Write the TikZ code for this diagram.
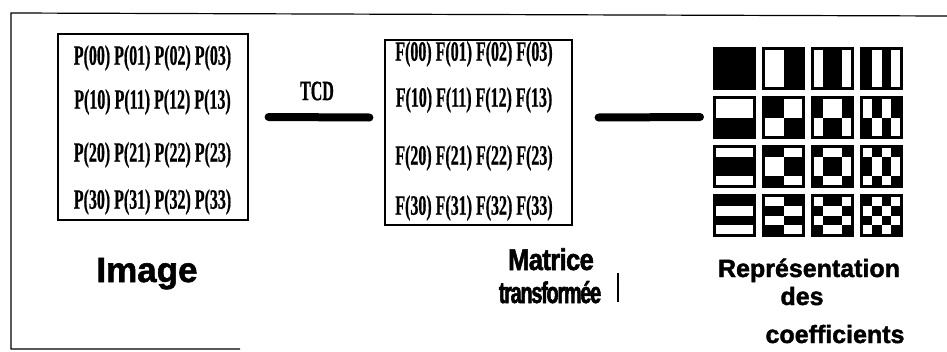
\documentclass[tikz,border=0pt]{standalone}
\usepackage{fontspec}
\newfontfamily\cellfont[FakeStretch=0.57, FakeBold=0.6]{Liberation Serif Bold}
\newfontfamily\labfont[FakeBold=1.6]{Liberation Sans Bold}
\newfontfamily\tightfont[FakeBold=1.8, FakeStretch=0.85, LetterSpace=-2]{Liberation Sans Bold}
\newfontfamily\narrowfont[FakeBold=1.8, FakeStretch=0.66, LetterSpace=-4]{Liberation Sans Bold}
% white cells of one basis pattern: 1 where the stripe is white
\newcommand\patbit[2]{\ifcase#1 0\or\ifcase#2 1\or1\else0\fi\or\ifcase#2 1\or0\or0\or1\fi\or\ifcase#2 0\or1\or0\or1\fi\fi}
\tikzset{
  matbox/.style={draw, line width=1.2pt, minimum width=190pt, minimum height=186pt, inner sep=0pt},
  row/.style={font=\cellfont\fontsize{28}{28}\selectfont, inner sep=0pt},
  link/.style={line width=8pt, line cap=round},
  caption/.style={font=\tightfont\fontsize{30}{30}\selectfont, inner sep=0pt, anchor=base},
  smallcap/.style={caption, font=\labfont\fontsize{25}{25}\selectfont},
}
\begin{document}
\begin{tikzpicture}[x=1pt, y=-1pt]
\useasboundingbox (0,0) rectangle (947,351);
% frame
\draw[line width=1.2pt] (947,16) -- (11,13) -- (11,349) -- (240,349);
% image and transformed matrix
\node[matbox] (img) at (153,127) {};
\node[matbox, minimum width=187pt, minimum height=185pt] (tf) at (478.5,132.5) {};
\foreach \r/\y in {0/58, 1/102, 2/155, 3/202}
  \node[row] (p\r) at (152.5,\y) {P(\r0) P(\r1) P(\r2) P(\r3)};
\foreach \r/\y in {0/54, 1/100, 2/158, 3/208}
  \node[row] (f\r) at (474,\y) {F(\r0) F(\r1) F(\r2) F(\r3)};
\node[row] (tcd) at (317,91) {TCD};
% basis patterns
\foreach \v in {0,...,3}
  \foreach \u in {0,...,3} {
    \coordinate (t\v\u) at (713+49*\u, 47+49*\v);
    \fill (t\v\u) rectangle ++(43,43);
    \foreach \i in {0,...,3}
      \foreach \j in {0,...,3} {
        \ifnum\patbit{\v}{\i}=\patbit{\u}{\j}\relax\else
          \fill[white] ([shift={(3+9.25*\j,3+9.25*\i)}]t\v\u) rectangle ++(9.25,9.25);
        \fi
      }
  }
% connectors
\draw[link] ([shift={(20,-10)}]img.east) -- ([shift={(-15,-15)}]tf.west);
\draw[link] ([shift={(26,-15)}]tf.east) -- ([shift={(-13,21)}]t10);
\draw[line width=1.5pt] (618,273) -- (618,302);
% captions
\node[caption, font=\labfont\fontsize{35}{35}\selectfont] (limg) at (147,282) {Image};
\node[caption] (lmat) at (551,270) {Matrice};
\node[caption, font=\narrowfont\fontsize{30}{30}\selectfont] (ltf) at (550,303) {transformée};
\node[smallcap] (lrep) at (809,277) {Représentation};
\node[smallcap] (ldes) at (802,305) {des};
\node[smallcap] (lcoef) at (835,343) {coefficients};
\end{tikzpicture}
\end{document}
